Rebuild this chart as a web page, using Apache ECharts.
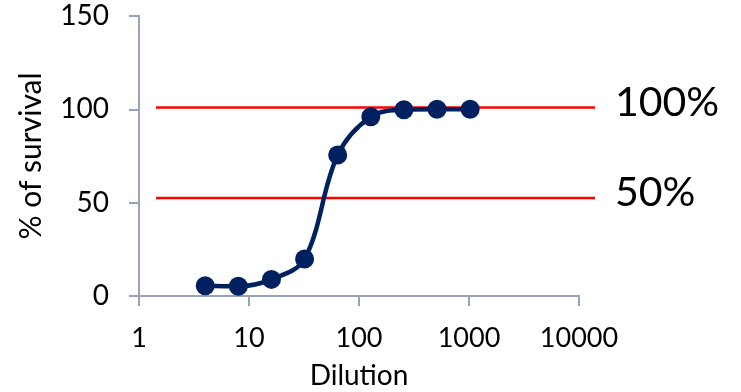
<!DOCTYPE html>
<html>
<head>
<meta charset="utf-8">
<script src="https://cdn.jsdelivr.net/npm/echarts@6/dist/echarts.min.js"></script>
<style>
html,body{margin:0;padding:0;background:#fff;}
#c{width:741px;height:392px;}
</style>
</head>
<body>
<div id="c"></div>
<script>
var dilutions = [4, 8, 16, 32, 64, 128, 256, 512, 1024];
var survival = [5.5, 5.2, 8.9, 19.8, 75.5, 96, 99.8, 100, 100];
var xTicks = [1, 10, 100, 1000, 10000];
var yTicks = [0, 50, 100, 150];
var refLevels = [101, 52.5];
var refLabels = ['100%', '50%'];

var FONT = 'Lato';
var axisColor = '#98a3b9';

var chart = echarts.init(document.getElementById('c'));

var refSeries = refLevels.map(function (v, i) {
  return {
    type: 'line',
    xAxisIndex: 1,
    yAxisIndex: 1,
    data: [[0, v], [1, v]],
    symbol: 'none',
    silent: true,
    lineStyle: { color: '#ff0000', width: 2.5 },
    z: 1,
    endLabel: {
      show: true,
      formatter: refLabels[i],
      distance: 20,
      offset: [0, -5],
      fontSize: 41,
      color: '#000',
      fontFamily: FONT
    }
  };
});

chart.setOption({
  animation: false,
  backgroundColor: '#fff',
  textStyle: { fontFamily: FONT },
  grid: [
    { left: 139, right: 162, top: 16, bottom: 96, containLabel: false, outerBoundsMode: 'none' },
    { left: 156, right: 146, top: 16, bottom: 96, containLabel: false, outerBoundsMode: 'none' }
  ],
  xAxis: [{
    type: 'log',
    logBase: 10,
    min: xTicks[0],
    max: xTicks[xTicks.length - 1],
    name: 'Dilution',
    nameLocation: 'middle',
    nameGap: 66,
    nameTextStyle: { fontSize: 28, color: '#000', fontFamily: FONT },
    axisLine: { show: true, lineStyle: { color: axisColor, width: 2 } },
    axisTick: { show: true, length: 10, lineStyle: { color: axisColor, width: 2 } },
    minorTick: { show: false },
    splitLine: { show: false },
    axisLabel: { fontSize: 27, color: '#000', margin: 29, fontFamily: FONT,
      formatter: function (v) { return String(Math.round(v)); } }
  }, {
    type: 'value', gridIndex: 1, min: 0, max: 1, show: false
  }],
  yAxis: [{
    type: 'value',
    min: yTicks[0],
    max: yTicks[yTicks.length - 1],
    interval: 50,
    name: '% of survival',
    nameLocation: 'middle',
    nameGap: 93,
    nameTextStyle: { fontSize: 30, color: '#000', fontFamily: FONT },
    axisLine: { show: true, lineStyle: { color: axisColor, width: 2 } },
    axisTick: { show: true, length: 10, lineStyle: { color: axisColor, width: 2 } },
    splitLine: { show: false },
    axisLabel: { fontSize: 28, color: '#000', margin: 30, fontFamily: FONT }
  }, {
    type: 'value', gridIndex: 1,
    min: yTicks[0], max: yTicks[yTicks.length - 1], show: false
  }],
  series: [{
    type: 'line',
    clip: false,
    data: dilutions.map(function (d, i) { return [d, survival[i]]; }),
    smooth: 0.35,
    symbol: 'circle',
    symbolSize: 19,
    lineStyle: { color: '#002060', width: 4.5 },
    itemStyle: { color: '#002060' },
    z: 3
  }].concat(refSeries)
});
</script>
</body>
</html>
